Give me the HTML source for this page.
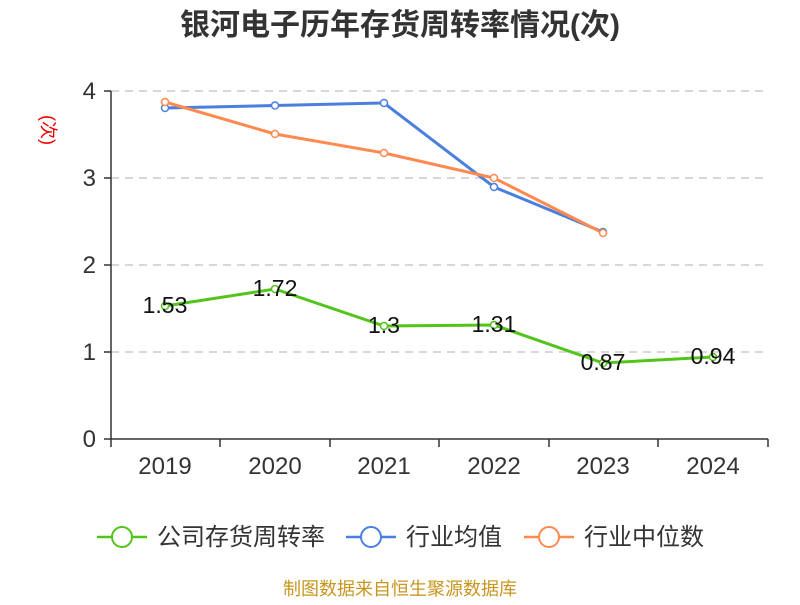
<!DOCTYPE html>
<html><head><meta charset="utf-8"><style>
body{margin:0;background:#fff;width:800px;height:600px;overflow:hidden}
svg text{font-family:"Liberation Sans","Noto Sans CJK SC",sans-serif}
</style></head><body>
<svg width="800" height="600" xmlns="http://www.w3.org/2000/svg">
<text x="400" y="35" text-anchor="middle" font-size="30" font-weight="bold" fill="#333">银河电子历年存货周转率情况(次)</text>
<text transform="translate(42,130) rotate(90)" text-anchor="middle" font-size="18" fill="#e00">(次)</text>
<g stroke="#ccc" stroke-dasharray="8,6" stroke-width="1.5">
<line x1="111" y1="91" x2="768" y2="91"/><line x1="111" y1="178" x2="768" y2="178"/>
<line x1="111" y1="265" x2="768" y2="265"/><line x1="111" y1="352" x2="768" y2="352"/>
</g>
<g stroke="#333" stroke-width="1.5">
<line x1="111" y1="91" x2="111" y2="439"/><line x1="111" y1="439" x2="768" y2="439"/>
<line x1="104" y1="91" x2="111" y2="91"/><line x1="104" y1="178" x2="111" y2="178"/><line x1="104" y1="265" x2="111" y2="265"/><line x1="104" y1="352" x2="111" y2="352"/><line x1="104" y1="439" x2="111" y2="439"/>
<line x1="111" y1="439" x2="111" y2="447"/><line x1="220" y1="439" x2="220" y2="447"/><line x1="330" y1="439" x2="330" y2="447"/><line x1="439" y1="439" x2="439" y2="447"/><line x1="549" y1="439" x2="549" y2="447"/><line x1="658" y1="439" x2="658" y2="447"/><line x1="768" y1="439" x2="768" y2="447"/>
</g>
<g font-size="24" fill="#333" text-anchor="end">
<text x="96" y="99">4</text><text x="96" y="186">3</text><text x="96" y="273">2</text><text x="96" y="360">1</text><text x="96" y="447">0</text>
</g>
<g font-size="24" fill="#333" text-anchor="middle">
<text x="165" y="474">2019</text><text x="275" y="474">2020</text><text x="384" y="474">2021</text><text x="494" y="474">2022</text><text x="603" y="474">2023</text><text x="713" y="474">2024</text>
</g>
<polyline fill="none" stroke="#4a7fe0" stroke-width="3" points="165,108 275,105.5 384,103 494,187 603,232"/>
<polyline fill="none" stroke="#ff8a50" stroke-width="3" points="165,102 275,134 384,153 494,178 603,233"/>
<polyline fill="none" stroke="#52c41a" stroke-width="3" points="165,306 275,289 384,326 494,325 603,363 713,357"/>
<g fill="#fff" stroke="#4a7fe0" stroke-width="1.5"><circle cx="165" cy="108" r="3.5"/><circle cx="275" cy="105.5" r="3.5"/><circle cx="384" cy="103" r="3.5"/><circle cx="494" cy="187" r="3.5"/><circle cx="603" cy="232" r="3.5"/></g>
<g fill="#fff" stroke="#ff8a50" stroke-width="1.5"><circle cx="165" cy="102" r="3.5"/><circle cx="275" cy="134" r="3.5"/><circle cx="384" cy="153" r="3.5"/><circle cx="494" cy="178" r="3.5"/><circle cx="603" cy="233" r="3.5"/></g>
<g fill="#fff" stroke="#52c41a" stroke-width="1.5"><circle cx="165" cy="306" r="3.5"/><circle cx="275" cy="289" r="3.5"/><circle cx="384" cy="326" r="3.5"/><circle cx="494" cy="325" r="3.5"/><circle cx="603" cy="363" r="3.5"/><circle cx="713" cy="357" r="3.5"/></g>
<g font-size="23" fill="#111" text-anchor="middle">
<text x="165" y="313">1.53</text><text x="275" y="296">1.72</text><text x="384" y="333">1.3</text><text x="494" y="332">1.31</text><text x="603" y="370">0.87</text><text x="713" y="364">0.94</text>
</g>
<g font-size="24" fill="#333">
<line x1="97" y1="537" x2="147" y2="537" stroke="#52c41a" stroke-width="2.5"/><circle cx="122" cy="537" r="10" fill="#fff" stroke="#52c41a" stroke-width="2"/><text x="157" y="545">公司存货周转率</text>
<line x1="346" y1="537" x2="396" y2="537" stroke="#4a7fe0" stroke-width="2.5"/><circle cx="371" cy="537" r="10" fill="#fff" stroke="#4a7fe0" stroke-width="2"/><text x="406" y="545">行业均值</text>
<line x1="524" y1="537" x2="574" y2="537" stroke="#ff8a50" stroke-width="2.5"/><circle cx="549" cy="537" r="10" fill="#fff" stroke="#ff8a50" stroke-width="2"/><text x="584" y="545">行业中位数</text>
</g>
<text x="400" y="595" text-anchor="middle" font-size="18" fill="#c8961e">制图数据来自恒生聚源数据库</text>
</svg>
</body></html>
